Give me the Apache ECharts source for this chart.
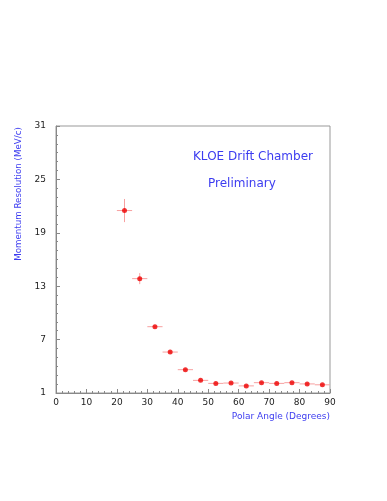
<!DOCTYPE html>
<html>
<head>
<meta charset="utf-8">
<script src="https://cdn.jsdelivr.net/npm/echarts@6/dist/echarts.min.js"></script>
<style>html,body{margin:0;padding:0;background:#fff;}#c{width:387px;height:501px;}</style>
</head>
<body>
<div id="c"></div>
<script>
var angles = [22.5, 27.5, 32.5, 37.5, 42.5, 47.5, 52.5, 57.5, 62.5, 67.5, 72.5, 77.5, 82.5, 87.5];
var resolution = [21.5, 13.85, 8.45, 5.6, 3.62, 2.42, 2.08, 2.12, 1.8, 2.16, 2.08, 2.16, 2.02, 1.92];
var resErr = [1.3, 0.62, 0.15, 0.15, 0.12, 0.12, 0.1, 0.1, 0.1, 0.1, 0.1, 0.1, 0.1, 0.1];
var angleErr = [2.5, 2.5, 2.5, 2.5, 2.5, 2.5, 2.5, 2.5, 2.5, 2.5, 2.5, 2.5, 2.5, 2.5];
var xTicks = [0, 10, 20, 30, 40, 50, 60, 70, 80, 90];
var yTicks = [1, 7, 13, 19, 25, 31];
var titleLines = ['KLOE Drift Chamber', 'Preliminary'];
var xTitle = 'Polar Angle (Degrees)';
var yTitle = 'Momentum Resolution (MeV/c)';

var chart = echarts.init(document.getElementById('c'), null, {renderer: 'canvas'});
var pts = angles.map(function (a, i) { return [a, resolution[i]]; });
var errs = angles.map(function (a, i) { return [a, resolution[i], angleErr[i], resErr[i]]; });
var font = 'DejaVu Sans';
var blue = '#3c3cf0';
var axisCol = '#888';
chart.setOption({
  animation: false,
  grid: {left: 56, right: 57, top: 126, bottom: 108},
  xAxis: {
    type: 'value', min: xTicks[0], max: xTicks[xTicks.length - 1], interval: 10,
    axisLine: {lineStyle: {color: axisCol, width: 1}},
    axisTick: {inside: true, length: 4, lineStyle: {color: axisCol}},
    minorTick: {show: true, splitNumber: 5, length: 2, lineStyle: {color: axisCol}},
    axisLabel: {color: '#222', fontSize: 9, fontFamily: font, margin: 5},
    splitLine: {show: false}
  },
  yAxis: {
    type: 'value', min: yTicks[0], max: yTicks[yTicks.length - 1], interval: 6,
    axisLine: {lineStyle: {color: axisCol, width: 1}},
    axisTick: {inside: true, length: 4, lineStyle: {color: axisCol}},
    minorTick: {show: true, splitNumber: 6, length: 2, lineStyle: {color: axisCol}},
    axisLabel: {color: '#222', fontSize: 9, fontFamily: font, margin: 10},
    splitLine: {show: false}
  },
  graphic: [
    {type: 'rect', shape: {x: 56, y: 126, width: 274, height: 267}, style: {fill: 'none', stroke: '#999', lineWidth: 1}, silent: true, z: -1},
    {type: 'text', left: 193, top: 151, style: {text: titleLines[0], fill: blue, font: '12px "DejaVu Sans"'}},
    {type: 'text', left: 208, top: 178, style: {text: titleLines[1], fill: blue, font: '12px "DejaVu Sans"'}},
    {type: 'text', right: 57, top: 412, style: {text: xTitle, fill: blue, font: '9px "DejaVu Sans"'}},
    {type: 'text', x: 19, y: 194, rotation: Math.PI / 2, style: {text: yTitle, fill: blue, font: '8.7px "DejaVu Sans"', align: 'center', verticalAlign: 'middle'}}
  ],
  series: [
    {
      type: 'custom',
      data: errs,
      renderItem: function (params, api) {
        var x = api.value(0), y = api.value(1), dx = api.value(2), dy = api.value(3);
        var l = api.coord([x - dx, y]), r = api.coord([x + dx, y]);
        var t = api.coord([x, y + dy]), b = api.coord([x, y - dy]);
        var st = {stroke: '#f7a0a0', lineWidth: 1};
        return {type: 'group', children: [
          {type: 'line', shape: {x1: l[0], y1: l[1], x2: r[0], y2: r[1]}, style: st},
          {type: 'line', shape: {x1: t[0], y1: t[1], x2: b[0], y2: b[1]}, style: st}
        ]};
      },
      z: 1
    },
    {
      type: 'scatter', data: pts, symbol: 'circle', symbolSize: 5,
      itemStyle: {color: '#ee0000'}, z: 2
    }
  ]
});
</script>
</body>
</html>
